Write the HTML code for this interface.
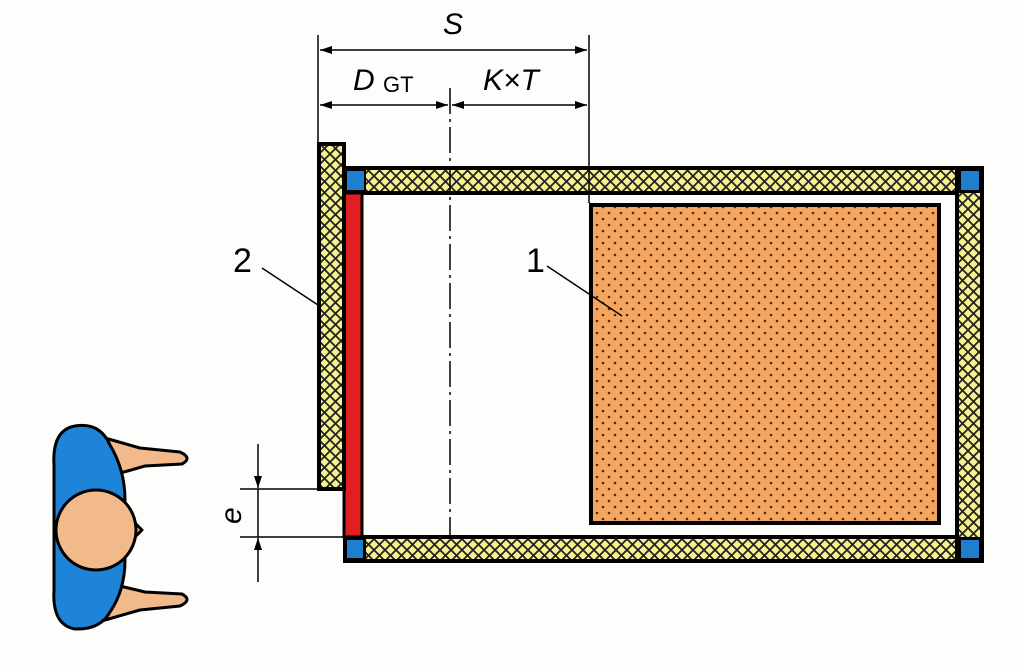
<!DOCTYPE html>
<html><head><meta charset="utf-8"><style>
html,body{margin:0;padding:0;background:#fdfdfb;}
svg{display:block;}
text{font-family:"Liberation Sans",sans-serif;fill:#000;}
</style></head><body>
<svg width="1024" height="666" viewBox="0 0 1024 666" xmlns="http://www.w3.org/2000/svg">
<defs>
<pattern id="hatch" width="11" height="11" patternUnits="userSpaceOnUse">
<rect width="11" height="11" fill="#f6f08e"/>
<path d="M0 0L11 11M11 0L0 11" stroke="#222" stroke-width="1.8"/>
</pattern>
<pattern id="dots" width="12" height="12" patternUnits="userSpaceOnUse">
<rect width="12" height="12" fill="#f4a560"/>
<circle cx="3" cy="3" r="1.3" fill="#5a2a10"/>
<circle cx="9" cy="9" r="1.3" fill="#5a2a10"/>
</pattern>
<marker id="ar" viewBox="0 0 12 8" refX="12" refY="4" markerWidth="12" markerHeight="8" markerUnits="userSpaceOnUse" orient="auto-start-reverse">
<path d="M0 0L12 4L0 8z" fill="#000"/>
</marker>
</defs>
<rect x="345" y="168" width="637" height="392" fill="none" stroke="#000" stroke-width="4"/>
<rect x="345" y="168" width="637" height="25" fill="url(#hatch)" stroke="#000" stroke-width="4"/>
<rect x="345" y="537" width="637" height="24" fill="url(#hatch)" stroke="#000" stroke-width="4"/>
<rect x="957" y="168" width="25" height="393" fill="url(#hatch)" stroke="#000" stroke-width="4"/>
<rect x="344" y="168" width="22" height="25" fill="#000"/>
<rect x="347" y="171" width="17" height="19" fill="#1e7fd0"/>
<rect x="957" y="168" width="25" height="25" fill="#000"/>
<rect x="961" y="171" width="18" height="19" fill="#1e7fd0"/>
<rect x="344" y="537" width="22" height="24" fill="#000"/>
<rect x="347" y="540" width="16" height="18" fill="#1e7fd0"/>
<rect x="957" y="537" width="25" height="24" fill="#000"/>
<rect x="961" y="540" width="18" height="18" fill="#1e7fd0"/>
<rect x="344" y="193" width="18" height="344" fill="#e02020" stroke="#000" stroke-width="3"/>
<rect x="319" y="144" width="25" height="345" fill="url(#hatch)" stroke="#000" stroke-width="4"/>
<rect x="591" y="205" width="348" height="318" fill="url(#dots)" stroke="#000" stroke-width="4"/>
<line x1="450" y1="88" x2="450" y2="535" stroke="#000" stroke-width="1.5" stroke-dasharray="26 5 3 5"/>
<line x1="318" y1="35" x2="318" y2="143" stroke="#000" stroke-width="1.5"/>
<line x1="589" y1="35" x2="589" y2="203" stroke="#000" stroke-width="1.5"/>
<line x1="320" y1="50" x2="587" y2="50" stroke="#000" stroke-width="1.5" marker-start="url(#ar)" marker-end="url(#ar)"/>
<line x1="320" y1="105" x2="448" y2="105" stroke="#000" stroke-width="1.5" marker-start="url(#ar)" marker-end="url(#ar)"/>
<line x1="452" y1="105" x2="587" y2="105" stroke="#000" stroke-width="1.5" marker-start="url(#ar)" marker-end="url(#ar)"/>
<text x="443" y="34" font-size="30" font-style="italic">S</text>
<text x="353" y="90" font-size="30" font-style="italic">D</text>
<text x="383" y="92" font-size="22">GT</text>
<text x="483" y="90" font-size="30" font-style="italic">K×T</text>
<text x="233" y="272" font-size="34">2</text>
<line x1="262" y1="268" x2="318" y2="305" stroke="#000" stroke-width="1.5"/>
<text x="526" y="272" font-size="34">1</text>
<line x1="547" y1="266" x2="622" y2="316" stroke="#000" stroke-width="1.5"/>
<line x1="240" y1="489" x2="318" y2="489" stroke="#000" stroke-width="1.5"/>
<line x1="240" y1="537" x2="345" y2="537" stroke="#000" stroke-width="1.5"/>
<line x1="258" y1="444" x2="258" y2="488" stroke="#000" stroke-width="1.5" marker-end="url(#ar)"/>
<line x1="258" y1="582" x2="258" y2="538" stroke="#000" stroke-width="1.5" marker-end="url(#ar)"/>
<line x1="258" y1="489" x2="258" y2="537" stroke="#000" stroke-width="1.5"/>
<text x="0" y="0" font-size="30" font-style="italic" transform="translate(241,524) rotate(-90)">e</text>
<g stroke="#000" stroke-width="3" stroke-linejoin="round">
<path d="M98 436 L140 448 L180 452 Q193 458 182 464 L145 466 L103 478 Z" fill="#f2b98a"/>
<path d="M98 622 L140 610 L180 606 Q193 600 182 594 L145 592 L103 582 Z" fill="#f2b98a"/>
<path d="M75 426 Q100 422 110 445 Q125 470 125 500 L125 560 Q125 590 110 612 Q100 630 75 629 Q52 625 54 590 L54 465 Q52 430 75 426 Z" fill="#1e84d8"/>
<path d="M134 522 L142 530 L134 538 Z" fill="#f2b98a"/>
<circle cx="96" cy="530" r="40" fill="#f2b98a"/>
</g>
</svg>
</body></html>
